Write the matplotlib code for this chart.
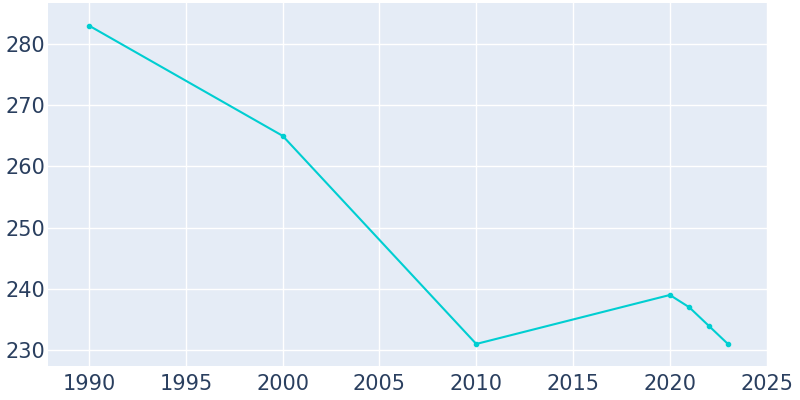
import matplotlib
matplotlib.use("Agg")
import matplotlib.pyplot as plt

years = [1990, 2000, 2010, 2020, 2021, 2022, 2023]
population = [283, 265, 231, 239, 237, 234, 231]

fig = plt.figure(figsize=(8, 4), dpi=100)
ax = fig.add_axes([48 / 800, 34 / 400, 720 / 800, 363 / 400])
ax.set_facecolor("#E5ECF6")

ax.plot(years, population, color="#00CED1", linewidth=1.5,
        marker="o", markersize=3, zorder=3)

ax.set_xlim(1987.88, 2025.07)
ax.set_ylim(227.4, 286.7)
ax.set_xticks(range(1990, 2026, 5))
ax.set_yticks(range(230, 281, 10))

ax.grid(True, color="white", linewidth=1)
ax.set_axisbelow(True)
for s in ax.spines.values():
    s.set_visible(False)
ax.tick_params(length=0, labelsize=15, colors="#2a3f5f")
ax.tick_params(axis="x", pad=6)
ax.tick_params(axis="y", pad=2)

fig.savefig("out.png")
